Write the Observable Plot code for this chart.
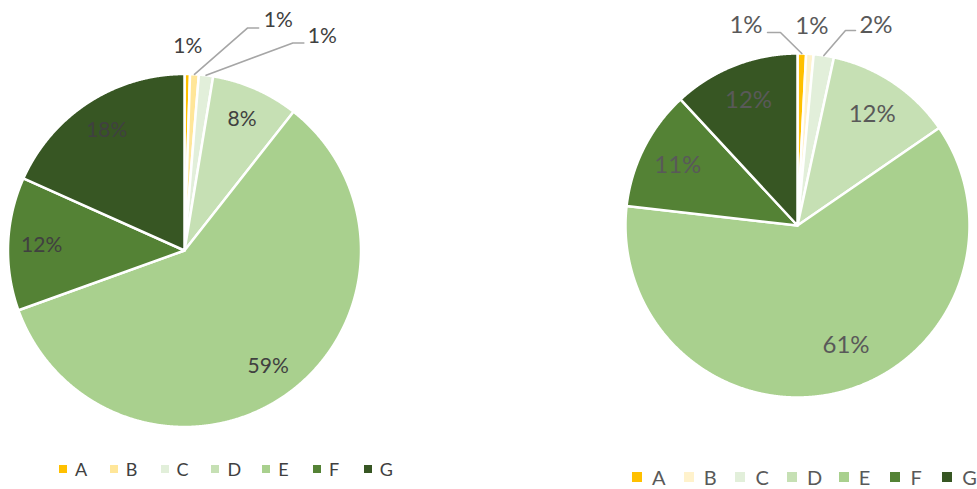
<!DOCTYPE html>
<html><head><meta charset="utf-8">
<script src="https://cdn.jsdelivr.net/npm/d3@7"></script>
<script src="https://cdn.jsdelivr.net/npm/@observablehq/plot@0.6"></script>
<style>
body{margin:0;background:#fff;font-family:Lato,sans-serif}
#wrap{position:relative;width:977px;height:489px;background:#fff}
.pie{position:absolute;top:0}
.legend{position:absolute;display:flex;align-items:center;font-family:Lato,sans-serif}
.item{display:flex;align-items:center;flex:none}
.sw{display:inline-block;flex:none}
</style></head><body><div id="wrap"></div>
<script>
// ---- data ----
const categories = ["A","B","C","D","E","F","G"];
const leftValues  = [0.5, 0.8, 1.3, 8.0, 58.9, 12.2, 18.3];
const rightValues = [0.8, 0.7, 1.9, 12.0, 61.4, 11.3, 11.9];
const leftColors  = ["#FFC000","#FFE699","#E2EFDA","#C6E0B4","#A9D08E","#548235","#375623"];
const rightColors = ["#FFC000","#FFF2CC","#E2EFDA","#C6E0B4","#A9D08E","#548235","#375623"];

// ---- helpers ----
function slices(values){
  return d3.pie().sort(null).value(d=>d)(values).map((p,i)=>({
    cat:categories[i], value:values[i], start:p.startAngle, end:p.endAngle, mid:(p.startAngle+p.endAngle)/2
  }));
}
function polygon(s){
  const pts=[{cat:s.cat,x:0,y:0}];
  const n=Math.max(2,Math.ceil((s.end-s.start)/0.004));
  for(let k=0;k<=n;k++){const a=s.start+(s.end-s.start)*k/n;pts.push({cat:s.cat,x:Math.sin(a),y:Math.cos(a)});}
  pts.push({cat:s.cat,x:0,y:0});
  return pts;
}
const pct = v => Math.round(v)+"%";

function pieChart(o){
  const sl = slices(o.values);
  const polys = sl.flatMap(polygon);
  const labels = [], leaders = [];
  sl.forEach((s,i)=>{
    const out = o.outside[s.cat];
    if(!out){
      const rho = o.innerRho;
      labels.push({x:Math.sin(s.mid)*rho,y:Math.cos(s.mid)*rho,text:pct(s.value),anchor:"middle"});
    } else if(out.at){
      labels.push({x:out.at[0],y:out.at[1],text:pct(s.value),anchor:"middle"});
    } else if(out.plain){
      labels.push({x:Math.sin(s.mid)*out.plain,y:Math.cos(s.mid)*out.plain,text:pct(s.value),anchor:"middle"});
    } else {
      leaders.push({id:s.cat,x:Math.sin(s.mid),y:Math.cos(s.mid)});
      leaders.push({id:s.cat,x:out.elbow[0],y:out.elbow[1]});
      leaders.push({id:s.cat,x:out.end[0],y:out.end[1]});
      labels.push({x:out.label[0],y:out.label[1],text:pct(s.value),anchor:out.anchor});
    }
  });
  const textMarks = ["middle","start","end"].map(a=>Plot.text(labels.filter(d=>d.anchor===a),{
    x:"x",y:"y",text:"text",textAnchor:a,lineAnchor:"middle",fontSize:o.fontSize,fill:o.textColor,fontFamily:"Lato"}));
  const svg = Plot.plot({
    width:o.width,height:o.height,margin:0,
    style:{overflow:"visible",background:"none",fontFamily:"Lato"},
    x:{domain:[-1,1],range:[o.cx-o.r,o.cx+o.r],axis:null},
    y:{domain:[-1,1],range:[o.cy+o.r,o.cy-o.r],axis:null},
    color:{domain:categories,range:o.colors},
    marks:[
      Plot.line(polys,{x:"x",y:"y",z:"cat",fill:"cat",stroke:"white",strokeWidth:2.5,strokeLinejoin:"round"}),
      Plot.line(leaders,{x:"x",y:"y",z:"id",stroke:"#A6A6A6",strokeWidth:1.6}),
      ...textMarks
    ]
  });
  svg.classList.add("pie");
  svg.style.left = o.left+"px";
  return svg;
}

function legend(o){
  const div=document.createElement("div");
  div.className="legend";
  const h=o.boxH;
  div.style.left=o.left+"px";div.style.top=(o.cy-h/2)+"px";div.style.height=h+"px";
  categories.forEach((c,i)=>{
    const it=document.createElement("div");it.className="item";it.style.width=o.step+"px";it.style.height=h+"px";
    const sw=document.createElement("span");sw.className="sw";
    sw.style.width=o.sq+"px";sw.style.height=o.sq+"px";sw.style.background=o.colors[i];sw.style.marginRight=o.gap+"px";
    const t=document.createElement("span");t.textContent=c;t.style.fontSize=o.fontSize+"px";t.style.color=o.textColor;
    t.style.lineHeight=h+"px";t.style.height=h+"px";t.style.display="inline-block";
    it.append(sw,t);div.append(it);
  });
  return div;
}

const wrap=document.getElementById("wrap");
wrap.append(pieChart({
  values:leftValues,colors:leftColors,left:0,width:380,height:450,cx:184,cy:250,r:176.5,
  fontSize:21,textColor:"#404040",innerRho:0.81,
  outside:{
    A:{plain:1.16},
    B:{elbow:[0.358,1.261],end:[0.42,1.261],label:[0.449,1.307],anchor:"start"},
    C:{elbow:[0.614,1.176],end:[0.676,1.176],label:[0.699,1.216],anchor:"start"}
  }
}));
wrap.append(pieChart({
  values:rightValues,colors:rightColors,left:600,width:377,height:450,cx:197,cy:225,r:172,
  fontSize:24,textColor:"#595959",innerRho:0.78,
  outside:{
    A:{elbow:[-0.099,1.122],end:[-0.174,1.122],label:[-0.203,1.163],anchor:"end"},
    B:{plain:1.16},
    C:{elbow:[0.279,1.134],end:[0.337,1.134],label:[0.36,1.163],anchor:"start"},
    E:{at:[0.282,-0.698]}
  }
}));
wrap.append(legend({left:59,cy:468.5,boxH:22,step:50.8,sq:8,gap:8,fontSize:18,textColor:"#404040",colors:leftColors}));
wrap.append(legend({left:632,cy:477,boxH:24,step:51.7,sq:10,gap:10,fontSize:20,textColor:"#595959",colors:rightColors}));
</script></body></html>
